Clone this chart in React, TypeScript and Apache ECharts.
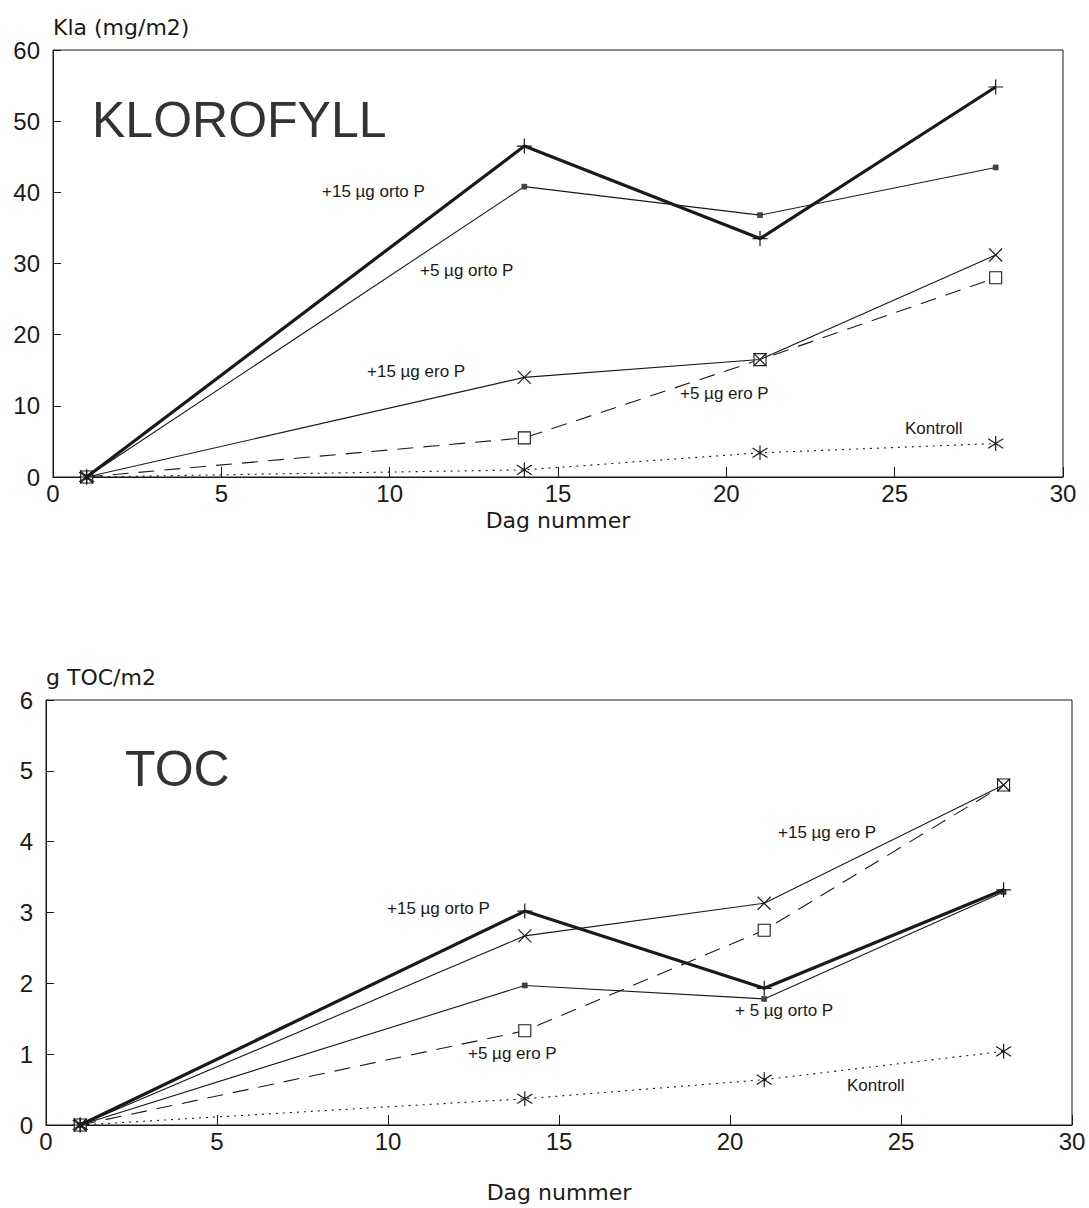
import React, { useEffect, useRef } from "react";
import * as echarts from "echarts";

const days = [1, 14, 21, 28];
const xTicks = [0, 5, 10, 15, 20, 25, 30];

const klaOrto15 = [0, 46.5, 33.5, 54.8];
const klaOrto5 = [0, 40.8, 36.8, 43.5];
const klaEro15 = [0, 14.0, 16.5, 31.2];
const klaEro5 = [0, 5.5, 16.5, 28.0];
const klaKontroll = [0, 1.0, 3.4, 4.7];

const tocOrto15 = [0, 3.02, 1.93, 3.32];
const tocOrto5 = [0, 1.97, 1.78, 3.29];
const tocEro15 = [0, 2.67, 3.13, 4.8];
const tocEro5 = [0, 1.33, 2.75, 4.8];
const tocKontroll = [0, 0.37, 0.64, 1.04];

const INK = "#1a1a1a";
const FONT = "Liberation Sans, Arial, Helvetica, sans-serif";

const SYM_PLUS = "path://M5,0L5,10M0,5L10,5";
const SYM_CROSS = "path://M0,0L10,10M10,0L0,10";
const SYM_AST = "path://M5,0L5,10M1.2,1.8L8.8,8.2M1.2,8.2L8.8,1.8";

function pts(vals: number[]) {
  return days.map((d, i) => [d, vals[i]]);
}

function makeSeries(idx: number, vals: number[][]) {
  const [o15, o5, e15, e5, k] = vals;
  const base = { type: "line", xAxisIndex: idx, yAxisIndex: idx, silent: true };
  return [
    {
      ...base,
      name: "+15 µg orto P",
      data: pts(o15),
      symbol: SYM_PLUS,
      symbolSize: 15,
      lineStyle: { color: INK, width: 3.2, type: "solid" },
      itemStyle: { color: "none", borderColor: INK, borderWidth: 1.2 },
      z: 5,
    },
    {
      ...base,
      name: "+5 µg orto P",
      data: pts(o5),
      symbol: "rect",
      symbolSize: 5,
      lineStyle: { color: INK, width: 1.1, type: "solid" },
      itemStyle: { color: "#444", borderColor: INK, borderWidth: 0.5 },
      z: 4,
    },
    {
      ...base,
      name: "+15 µg ero P",
      data: pts(e15),
      symbol: SYM_CROSS,
      symbolSize: 13,
      lineStyle: { color: INK, width: 1.1, type: "solid" },
      itemStyle: { color: "none", borderColor: INK, borderWidth: 1.2 },
      z: 4,
    },
    {
      ...base,
      name: "+5 µg ero P",
      data: pts(e5),
      symbol: "rect",
      symbolSize: 12,
      lineStyle: { color: INK, width: 1.1, type: [16, 10] },
      itemStyle: { color: "#fff", borderColor: INK, borderWidth: 1.1 },
      z: 3,
    },
    {
      ...base,
      name: "Kontroll",
      data: pts(k),
      symbol: SYM_AST,
      symbolSize: 15,
      lineStyle: { color: INK, width: 1.1, type: [2, 5] },
      itemStyle: { color: "none", borderColor: INK, borderWidth: 1.2 },
      z: 3,
    },
  ];
}

function xAxisCfg(idx: number, nameGap: number) {
  return {
    type: "value",
    gridIndex: idx,
    min: xTicks[0],
    max: xTicks[xTicks.length - 1],
    interval: xTicks[1] - xTicks[0],
    name: "Dag nummer",
    nameLocation: "middle",
    nameGap,
    nameTextStyle: { fontFamily: "DejaVu Sans, sans-serif", fontSize: 22, color: INK },
    axisLine: { show: true, lineStyle: { color: INK, width: 1 } },
    axisTick: { show: true, inside: true, length: 10, lineStyle: { color: INK, width: 1 } },
    axisLabel: { fontFamily: FONT, fontSize: 24, color: INK, margin: 4 },
    splitLine: { show: false },
  };
}

function yAxisCfg(idx: number, max: number, interval: number, name: string) {
  return {
    type: "value",
    gridIndex: idx,
    min: 0,
    max,
    interval,
    name,
    nameLocation: "end",
    nameGap: 12,
    nameTextStyle: { fontFamily: "DejaVu Sans, sans-serif", fontSize: 22, color: INK, align: "left" },
    axisLine: { show: true, lineStyle: { color: INK, width: 1 } },
    axisTick: { show: true, inside: true, length: 8, lineStyle: { color: INK, width: 1 } },
    axisLabel: { fontFamily: FONT, fontSize: 24, color: INK, margin: 13 },
    splitLine: { show: false },
  };
}

function label(text: string, x: number, y: number, size = 17) {
  return {
    type: "text",
    x,
    y,
    silent: true,
    style: { text, fill: INK, font: `${size}px ${FONT}`, verticalAlign: "middle", align: "left" },
  };
}

export default function App() {
  const ref = useRef<HTMLDivElement>(null);
  useEffect(() => {
    if (!ref.current) return;
    const chart = echarts.init(ref.current, undefined, { renderer: "svg" });
    chart.setOption({
      animation: false,
      backgroundColor: "#fff",
      grid: [
        { left: 53, right: 26, top: 50, height: 427, show: true, borderColor: INK, borderWidth: 1, backgroundColor: "transparent" },
        { left: 46, right: 17, top: 700, height: 425, show: true, borderColor: INK, borderWidth: 1, backgroundColor: "transparent" },
      ],
      xAxis: [xAxisCfg(0, 32), xAxisCfg(1, 56)],
      yAxis: [yAxisCfg(0, 60, 10, "Kla (mg/m2)"), yAxisCfg(1, 6, 1, "g TOC/m2")],
      series: [
        ...makeSeries(0, [klaOrto15, klaOrto5, klaEro15, klaEro5, klaKontroll]),
        ...makeSeries(1, [tocOrto15, tocOrto5, tocEro15, tocEro5, tocKontroll]),
      ],
      graphic: [
        {
          type: "text", x: 92, y: 120, silent: true,
          style: { text: "KLOROFYLL", fill: "#333", font: `50px ${FONT}`, verticalAlign: "middle", align: "left" },
        },
        {
          type: "text", x: 125, y: 769, silent: true,
          style: { text: "TOC", fill: "#333", font: `50px ${FONT}`, verticalAlign: "middle", align: "left" },
        },
        label("+15 µg orto P", 322, 191),
        label("+5 µg orto P", 420, 270),
        label("+15 µg ero P", 367, 371),
        label("+5 µg ero P", 680, 393),
        label("Kontroll", 905, 428),
        label("+15 µg orto P", 387, 908),
        label("+15 µg ero P", 778, 832),
        label("+ 5 µg orto P", 735, 1010),
        label("+5 µg ero P", 468, 1053),
        label("Kontroll", 847, 1085),
      ],
    });
    return () => chart.dispose();
  }, []);
  return (
    <div
      ref={ref}
      style={{ position: "absolute", left: 0, top: 0, width: 1089, height: 1208, background: "#fff" }}
    />
  );
}
